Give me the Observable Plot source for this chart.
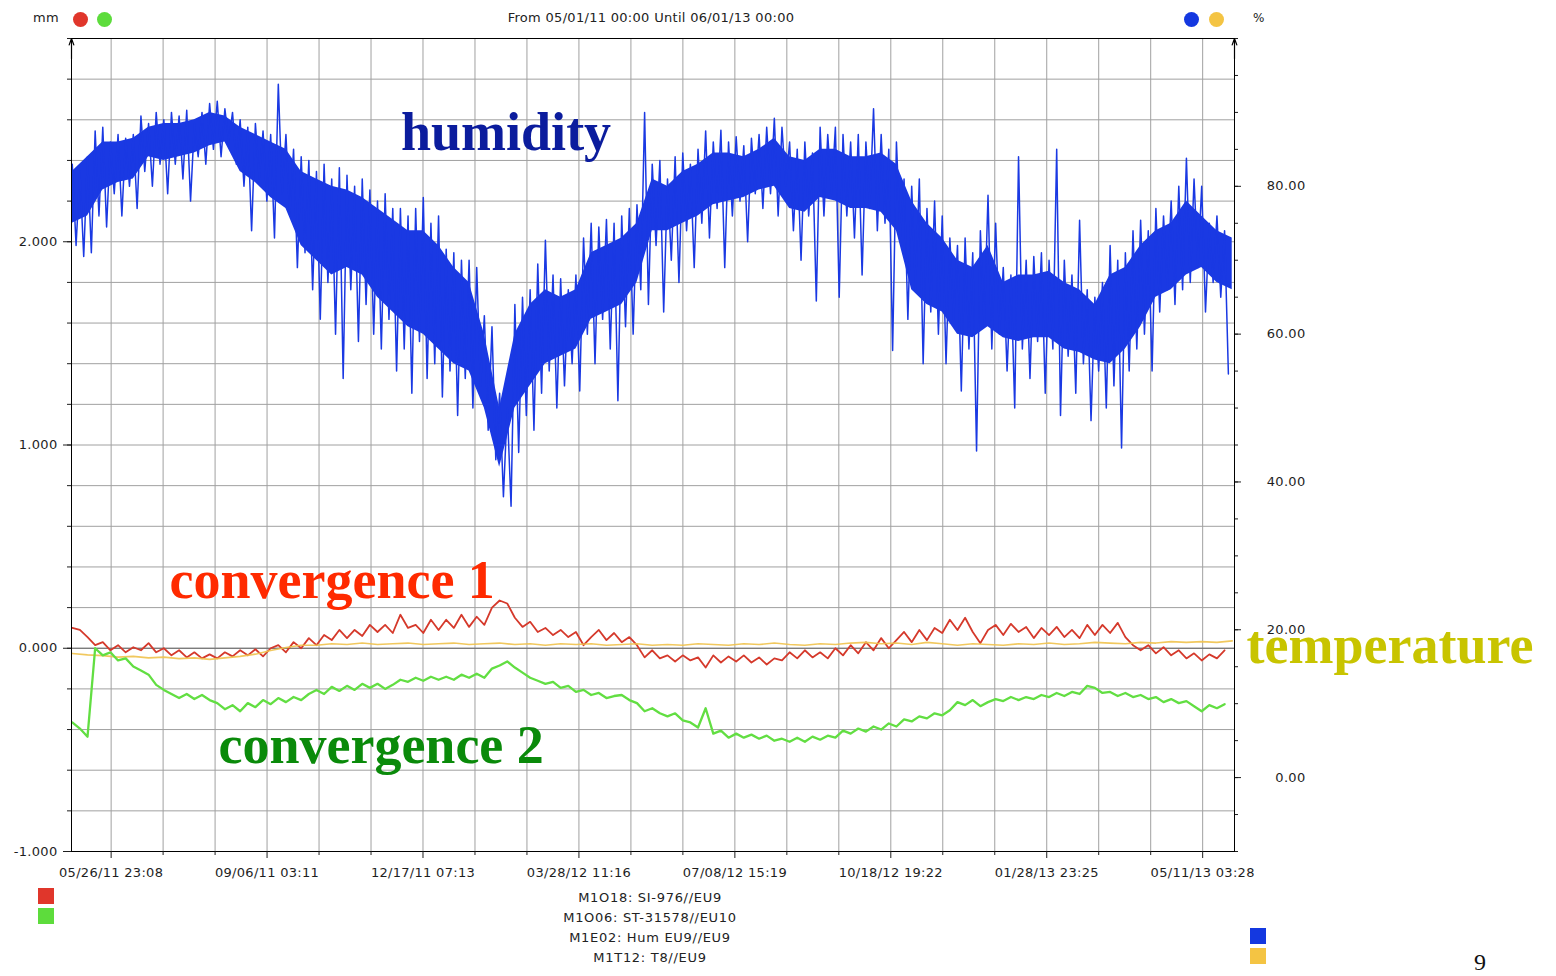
<!DOCTYPE html>
<html><head><meta charset="utf-8">
<script src="https://cdn.jsdelivr.net/npm/d3@7"></script>
<script src="https://cdn.jsdelivr.net/npm/@observablehq/plot@0.6"></script>
<style>
html,body{margin:0;padding:0;background:#fff;overflow:hidden;}
#wrap{position:relative;width:1556px;height:976px;}
#wrap g[aria-label$="tick label"] text{letter-spacing:0.3px;}
.t{position:absolute;font-family:"DejaVu Sans",sans-serif;font-size:13px;color:#222;line-height:16px;white-space:nowrap;letter-spacing:0.3px;}
.c{transform:translateX(-50%);}
.dot{position:absolute;width:15px;height:15px;border-radius:50%;}
.sq{position:absolute;width:16px;height:16px;}
</style></head><body><div id="wrap"></div>
<script>
// ---------- data ----------
const xStart = "2011-05-01T00:00Z", xEnd = "2013-06-01T00:00Z";
const xTickLabels = ["05/26/11 23:08","09/06/11 03:11","12/17/11 07:13","03/28/12 11:16","07/08/12 15:19","10/18/12 19:22","01/28/13 23:25","05/11/13 03:28"];
const leftTicks = [-1, 0, 1, 2];
const rightTicks = [0, 20, 40, 60, 80];
const headerTitle = "From 05/01/11 00:00 Until 06/01/13 00:00";
const seriesNames = ["M1O18: SI-976//EU9", "M1O06: ST-31578//EU10", "M1E02: Hum EU9//EU9", "M1T12: T8//EU9"];
const noteLabels = ["humidity", "convergence 1", "convergence 2", "temperature"];

// sampling: value i at day (sampleStartDay + i*sampleStepDays) after xStart
const sampleStartDay = 0.5, sampleStepDays = 5;
// humidity (%), per 5-day bin: upper and lower excursion
const humHi = [83,82,84,87.5,88,86,87,86.5,87,89.5,
  88.5,90,89,90,89.5,90.3,88.5,90,91.2,91.5,
  90.5,90,89,88,88.5,87.5,87,93.8,87,85,
  84,83.5,82,83,81,82.5,81.5,80,81,79.5,
  78,79,77,77,76,77,78.5,75,76,71.5,
  71,70,70,69,62.5,61,52,50,64,65,
  66,69.5,72.7,68,67.5,66,68,73,75,74.5,
  75.5,75,76,77,77.5,90,83,83.5,81,84,
  84.5,83,85,87.5,86,87.6,86,86.7,85.5,86.5,
  87,88,89.2,88,86,85,86,84.5,88,87,
  88,87,86,87,86,90.5,87,85,86,81,
  80,81,77,78,76,73,72,73,71,74,
  78.8,75,69,68,84,70,70.5,71,70,85,
  70,68,75.4,66,65,67,72,70,71,74,
  75.4,74,77,76,78,80,83.8,81,80,75,
  76,74];
const humLo = [72,70.5,71,76,74.5,79,76,80,77,82,
  80,83,79,83,81,78,84,83,85,84,
  86,83,80,74,81,78,73,79,76,69,
  71,66,62,67,60,54,66,59,64,60,
  58,62,55,58,52,59,54,56,51.5,55,
  49,54,50,53,47,43,38,36.7,44,49,
  47,52,55,50,53,56,52.3,60,56,62,
  58,51,61,60,66,64,72,63,70,67,
  74,69,75,73,77,69,76,78,72.5,79,
  77,79,76,80,74,70,76,64.5,76,79,
  65,76,73,68,77,74,75,57.8,73,62,
  66,56,63,60,56,62,52.3,58,44.2,61,
  58,60,55,50,58,54,59,52,58,49,
  57,52,56,48.3,55,50,53,44.6,55,58,
  60,55,63,66,64,66,67,69,63,67,
  65,54.6];
// humidity dense core band (%), every 10 days
const coreStartDay = 0.5, coreStepDays = 10;
const humCoreTop = [82,84,86,86,86.5,88,88.5,88.5,89,90,
  89.5,88,87,86,85,82,81,80,79.5,78.5,
  77,75.5,74,74,72,69,67,60,50,60,
  64,66,65,66,71,72,73,75,81,80,
  82,83,84.5,84.5,84,85,86.5,84,83.5,85,
  85,84,84,84.5,83,78,75,73,70,69,
  72,67,68,68,68.5,67,66,64,68,69,
  72,74,75,78,76,74,73];
const humCoreBottom = [75,76,79.5,80.5,81,84,83.5,84,84.5,85.5,
  86,82,80.5,78.5,77,72,70,68,69,68,
  65,63,61,60,58,56,55,50,42,50,
  53,56,57,58,62,63,64,67,74,74,
  75,76,77.5,78,78.5,79.5,80,77,76.5,78.5,
  78,77,77,76.5,74,66,64,63,60,59.5,
  61,59.5,59,59.5,59.5,58,57.5,56.5,56,58,
  61,65,66,68,69,67,66];
// convergence 1 (mm)
const conv1 = [0.10,0.09,0.055,0.015,0.03,-0.01,0.015,-0.02,0.005,-0.01,
  0.025,-0.02,0.0,-0.035,-0.01,-0.045,-0.02,-0.05,-0.03,-0.05,
  -0.02,-0.04,-0.01,-0.035,-0.005,-0.04,0.0,0.015,-0.02,0.03,
  0.0,0.05,0.015,0.065,0.04,0.09,0.05,0.09,0.06,0.115,
  0.08,0.115,0.075,0.165,0.10,0.115,0.075,0.14,0.09,0.14,
  0.10,0.165,0.105,0.155,0.115,0.20,0.235,0.22,0.15,0.105,
  0.13,0.08,0.10,0.065,0.09,0.055,0.08,0.015,0.055,0.09,
  0.04,0.075,0.03,0.055,0.015,-0.045,-0.01,-0.05,-0.035,-0.065,
  -0.035,-0.06,-0.045,-0.095,-0.035,-0.07,-0.04,-0.065,-0.035,-0.07,
  -0.045,-0.08,-0.05,-0.06,-0.02,-0.05,-0.01,-0.045,-0.02,-0.05,
  0.0,-0.035,0.015,-0.025,0.03,-0.01,0.05,0.0,0.04,0.08,
  0.03,0.09,0.04,0.10,0.075,0.14,0.09,0.15,0.08,0.025,
  0.09,0.115,0.065,0.12,0.08,0.105,0.05,0.10,0.065,0.105,
  0.055,0.09,0.05,0.115,0.065,0.115,0.075,0.125,0.055,0.015,
  -0.01,0.015,-0.025,0.005,-0.035,-0.01,-0.05,-0.025,-0.06,-0.03,
  -0.05,-0.01];
// convergence 2 (mm)
const conv2 = [-0.365,-0.395,-0.435,0.0,-0.035,-0.02,-0.06,-0.05,-0.09,-0.11,
  -0.13,-0.18,-0.205,-0.225,-0.245,-0.225,-0.25,-0.23,-0.255,-0.27,
  -0.30,-0.28,-0.31,-0.27,-0.29,-0.255,-0.275,-0.245,-0.265,-0.24,
  -0.255,-0.225,-0.205,-0.225,-0.19,-0.21,-0.185,-0.205,-0.175,-0.195,
  -0.175,-0.20,-0.18,-0.155,-0.165,-0.145,-0.16,-0.14,-0.155,-0.14,
  -0.155,-0.13,-0.145,-0.125,-0.145,-0.10,-0.085,-0.065,-0.095,-0.12,
  -0.145,-0.16,-0.175,-0.165,-0.195,-0.185,-0.215,-0.205,-0.23,-0.22,
  -0.245,-0.235,-0.23,-0.255,-0.27,-0.31,-0.295,-0.32,-0.335,-0.32,
  -0.355,-0.365,-0.39,-0.295,-0.42,-0.405,-0.44,-0.42,-0.44,-0.425,
  -0.445,-0.43,-0.455,-0.445,-0.46,-0.44,-0.46,-0.435,-0.45,-0.43,
  -0.44,-0.405,-0.42,-0.395,-0.41,-0.385,-0.40,-0.37,-0.385,-0.35,
  -0.36,-0.335,-0.345,-0.32,-0.33,-0.305,-0.265,-0.28,-0.255,-0.285,
  -0.265,-0.25,-0.26,-0.24,-0.255,-0.24,-0.25,-0.23,-0.24,-0.22,
  -0.235,-0.215,-0.225,-0.185,-0.195,-0.22,-0.215,-0.235,-0.22,-0.24,
  -0.23,-0.25,-0.24,-0.265,-0.25,-0.27,-0.26,-0.285,-0.31,-0.28,
  -0.295,-0.275];
// temperature (right axis), every 10 days
const tempStartDay = 0.5, tempStepDays = 10;
const temp = [16.8,16.6,16.5,16.3,16.4,16.2,16.3,16.1,16.2,16.0,
  16.2,16.4,16.7,17.2,17.6,17.9,17.9,18.1,18.0,18.2,
  18.0,18.1,18.2,18.0,18.1,18.2,18.0,18.1,18.2,18.0,
  18.1,17.9,18.1,18.0,18.1,17.9,18.0,18.1,17.9,18.0,
  17.9,18.1,18.0,17.9,18.1,18.0,18.2,18.0,17.9,18.1,
  18.0,18.2,18.3,18.1,18.2,18.0,18.3,18.1,17.9,18.1,
  18.0,17.9,18.1,18.0,18.2,18.0,18.1,18.3,18.2,18.1,
  18.3,18.2,18.4,18.3,18.4,18.3,18.5];

// ---------- helpers ----------
const t0 = new Date(xStart).getTime();
const dayToDate = d => new Date(t0 + d * 864e5);
const pctToMm = p => (p + 10) * 4 / 110 - 1;      // right axis [-10,100] onto left [-1,3]
const mmToPct = m => (m + 1) * 110 / 4 - 10;
const parseTick = d3.utcParse("%m/%d/%y %H:%M");
const majorDates = xTickLabels.map(parseTick);
const minorDates = [];
for (let k = 0; k < majorDates.length - 1; k++) {
  const a = +majorDates[k], b = +majorDates[k + 1];
  minorDates.push(new Date(a + (b - a) / 3), new Date(a + 2 * (b - a) / 3));
}
const gridDates = majorDates.concat(minorDates);
const leftMinor = d3.range(-5, 16).map(k => k / 5);
const rightMinor = d3.range(-10, 101, 5);

const humPts = humHi.flatMap((h, i) => [
  {date: dayToDate(sampleStartDay + i * sampleStepDays), v: pctToMm(h)},
  {date: dayToDate(sampleStartDay + i * sampleStepDays + sampleStepDays / 2), v: pctToMm(humLo[i])}
]);
const corePts = humCoreTop.map((h, i) => ({date: dayToDate(coreStartDay + i * coreStepDays), top: pctToMm(h), bottom: pctToMm(humCoreBottom[i])}));
const c1Pts = conv1.map((v, i) => ({date: dayToDate(sampleStartDay + i * sampleStepDays), v}));
const c2Pts = conv2.map((v, i) => ({date: dayToDate(sampleStartDay + i * sampleStepDays), v}));
const tPts = temp.map((v, i) => ({date: dayToDate(tempStartDay + i * tempStepDays), v: pctToMm(v)}));

const xDomain = [new Date(xStart), new Date(xEnd)];
const serif = "'Liberation Serif','DejaVu Serif',serif";
const blue = "#1a39e3";

const chart = Plot.plot({
  width: 1556, height: 976,
  marginLeft: 71, marginRight: 322, marginTop: 38, marginBottom: 125,
  x: {type: "utc", domain: xDomain},
  y: {domain: [-1, 3]},
  style: {fontFamily: "'DejaVu Sans',sans-serif", fontSize: "13px", color: "#1e1e1e", background: "white"},
  marks: [
    Plot.ruleX(gridDates, {stroke: "#a0a0a0", strokeWidth: 1}),
    Plot.ruleY(leftMinor, {stroke: "#a0a0a0", strokeWidth: 1}),
    Plot.ruleY([0], {stroke: "#6a6a6a", strokeWidth: 1}),
    Plot.line(c1Pts, {x: "date", y: "v", stroke: "#d5392b", strokeWidth: 1.8}),
    Plot.line(tPts, {x: "date", y: "v", stroke: "#f0c24c", strokeWidth: 1.6, strokeOpacity: 0.9}),
    Plot.line(c2Pts, {x: "date", y: "v", stroke: "#62de42", strokeWidth: 2.3}),
    Plot.areaY(corePts, {x: "date", y1: "bottom", y2: "top", fill: blue, curve: "linear"}),
    Plot.line(humPts, {x: "date", y: "v", stroke: blue, strokeWidth: 1.5}),
    Plot.frame({stroke: "#000"}),
    Plot.arrow(xDomain, {x1: d => d, x2: d => d, y1: () => 2.9, y2: () => 3, stroke: "#000", strokeWidth: 1.2, headLength: 12, headAngle: 40}),
    Plot.axisX(majorDates, {anchor: "bottom", tickSize: 7, tickPadding: 9, tickFormat: d3.utcFormat("%m/%d/%y %H:%M"), label: null}),
    Plot.axisX(minorDates, {anchor: "bottom", tickSize: 4, tickFormat: () => "", label: null}),
    Plot.axisY(leftTicks, {anchor: "left", tickSize: 8, tickPadding: 6, tickFormat: d => d.toFixed(3), label: null}),
    Plot.axisY(leftMinor, {anchor: "left", tickSize: 4, tickFormat: () => "", label: null}),
    Plot.axisY(rightTicks.map(pctToMm), {anchor: "right", tickSize: 6, tickPadding: 65, textAnchor: "end",
      tickFormat: d => (Math.round(mmToPct(d) * 100) / 100).toFixed(2), label: null}),
    Plot.axisY(rightMinor.map(pctToMm), {anchor: "right", tickSize: 3, tickFormat: () => "", label: null}),
    Plot.text([noteLabels[0]], {x: () => new Date("2011-12-02T22:00Z"), y: () => 2.453, text: d => d, textAnchor: "start", lineAnchor: "bottom",
      fontFamily: serif, fontWeight: "bold", fontSize: 54, fill: "#0b1c9d"}),
    Plot.text([noteLabels[1]], {x: () => new Date("2011-07-04T05:00Z"), y: () => 0.246, text: d => d, textAnchor: "start", lineAnchor: "bottom",
      fontFamily: serif, fontWeight: "bold", fontSize: 54, fill: "#ff2a00"}),
    Plot.text([noteLabels[2]], {x: () => new Date("2011-08-05T07:00Z"), y: () => -0.567, text: d => d, textAnchor: "start", lineAnchor: "bottom",
      fontFamily: serif, fontWeight: "bold", fontSize: 54, fill: "#0a8a0a"}),
    Plot.text([noteLabels[3]], {x: () => new Date(xEnd), y: () => -0.074, dx: 12, text: d => d, textAnchor: "start", lineAnchor: "bottom",
      fontFamily: serif, fontWeight: "bold", fontSize: 54, fill: "#c8c400"})
  ]
});
const wrap = document.getElementById("wrap");
wrap.appendChild(chart);

// ---------- header / footer ----------
function add(cls, css, text) {
  const d = document.createElement("div");
  d.className = cls; d.style.cssText = css;
  if (text != null) d.textContent = text;
  wrap.appendChild(d);
}
add("t", "left:33px;top:10px;", "mm");
add("dot", "left:73px;top:12px;background:#e0362b;");
add("dot", "left:97px;top:12px;background:#5ddc3c;");
add("t c", "left:651px;top:10px;", headerTitle);
add("dot", "left:1184px;top:12px;background:#1438e0;");
add("dot", "left:1209px;top:12px;background:#f4c443;");
add("t", "left:1253px;top:10px;font-size:12px;", "%");
add("sq", "left:38px;top:888px;background:#e0362b;");
add("sq", "left:38px;top:908px;background:#5ddc3c;");
seriesNames.forEach((s, i) => add("t c", `left:650px;top:${890 + 20 * i}px;letter-spacing:0.7px;`, s));
add("sq", "left:1250px;top:928px;background:#1438e0;");
add("sq", "left:1250px;top:948px;background:#f4c443;");
add("t", "left:1474px;top:948px;font-family:'Liberation Serif',serif;font-size:24px;line-height:28px;color:#111;", "9");
</script></body></html>
